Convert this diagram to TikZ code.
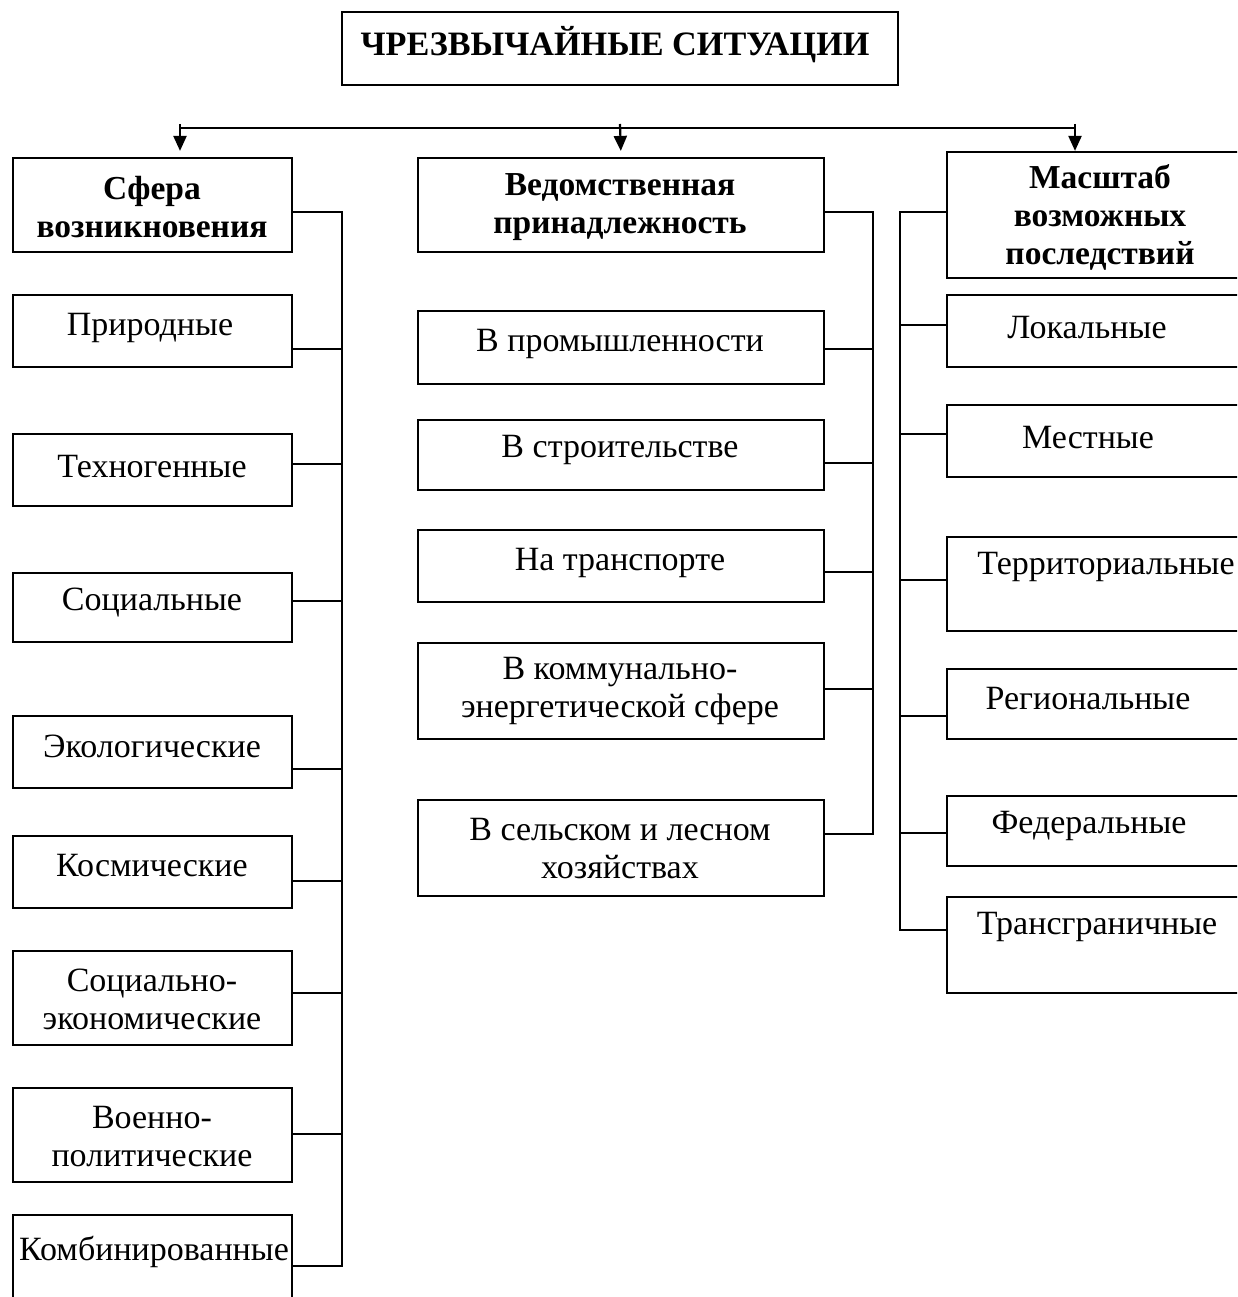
\documentclass[tikz,border=0pt]{standalone}
\usepackage{fontspec}
\setmainfont{Liberation Serif}
\newfontfamily\titlefont{Liberation Serif}
\usetikzlibrary{arrows.meta,fit}
\begin{document}
\begin{tikzpicture}[x=1pt,y=-1pt,
  box/.style={draw, line width=2.2pt, inner sep=0pt},
  ln/.style={line width=2.2pt},
  arr/.style={line width=2.2pt, -{Triangle[width=13pt,length=15pt]}},
  txt/.style={font=\fontsize{34}{38}\selectfont, inner sep=0pt, align=center},
  hdr/.style={font=\bfseries\fontsize{33.5}{38}\selectfont, inner sep=0pt, align=center}]
\useasboundingbox (0,0) rectangle (1237,1297);
\fill[white] (0,0) rectangle (1237,1297);
\clip (0,0) rectangle (1237,1297);

% title
\node[box, fit={(342,12) (898,85)}] (title) {};
\node[inner sep=0pt, font=\titlefont\bfseries\fontsize{34.2}{40}\selectfont] at (615,45) {ЧРЕЗВЫЧАЙНЫЕ СИТУАЦИИ};

% left column
\node[box, fit={(13,158) (292,252)}] (sfera) {};
\node[hdr] at (152,207) {Сфера\\возникновения};
\node[box, fit={(13,295) (292,367)}] (prir) {};
\node[txt] at (150,328) {Природные};
\node[box, fit={(13,434) (292,506)}] (tehn) {};
\node[txt] at (152,467) {Техногенные};
\node[box, fit={(13,573) (292,642)}] (soc) {};
\node[txt] at (152,603) {Социальные};
\node[box, fit={(13,716) (292,788)}] (ekol) {};
\node[txt] at (152,746) {Экологические};
\node[box, fit={(13,836) (292,908)}] (kosm) {};
\node[txt] at (152,866) {Космические};
\node[box, fit={(13,951) (292,1045)}] (socek) {};
\node[txt] at (152,999) {Социально-\\экономические};
\node[box, fit={(13,1088) (292,1182)}] (voen) {};
\node[txt] at (152,1137) {Военно-\\политические};
\node[box, fit={(13,1215) (292,1320)}] (komb) {};
\node[txt] at (154,1252) {Комбинированные};

% middle column
\node[box, fit={(418,158) (824,252)}] (ved) {};
\node[hdr] at (620,207) {Ведомственная\\принадлежность};
\node[box, fit={(418,311) (824,384)}] (prom) {};
\node[txt] at (620,344) {В промышленности};
\node[box, fit={(418,420) (824,490)}] (stroi) {};
\node[txt] at (620,450) {В строительстве};
\node[box, fit={(418,530) (824,602)}] (trans) {};
\node[txt] at (620,563) {На транспорте};
\node[box, fit={(418,643) (824,739)}] (komm) {};
\node[txt] at (620,691) {В коммунально-\\энергетической сфере};
\node[box, fit={(418,800) (824,896)}] (sel) {};
\node[txt] at (620,849) {В сельском и лесном\\хозяйствах};

% right column
\node[box, fit={(947,152) (1260,278)}] (masht) {};
\node[hdr] at (1100,217) {Масштаб\\возможных\\последствий};
\node[box, fit={(947,295) (1260,367)}] (lok) {};
\node[txt] at (1087,328) {Локальные};
\node[box, fit={(947,405) (1260,477)}] (mest) {};
\node[txt] at (1088,438) {Местные};
\node[box, fit={(947,537) (1260,631)}] (terr) {};
\node[txt] at (1106,567) {Территориальные};
\node[box, fit={(947,669) (1260,739)}] (reg) {};
\node[txt] at (1088,699) {Региональные};
\node[box, fit={(947,796) (1260,866)}] (fed) {};
\node[txt] at (1089,826) {Федеральные};
\node[box, fit={(947,897) (1260,993)}] (transgr) {};
\node[txt] at (1097,927) {Трансграничные};

% top distribution line and arrows
\coordinate (hl) at (180,128);
\coordinate (hr) at (1075,128);
\draw[ln] (hl) -- (hr);
\draw[arr, shorten >=6pt] (180,124) -- (sfera.north -| 180,0);
\draw[arr, shorten >=6pt] (620,124) -- (ved.north);
\draw[arr] (1075,124) -- (masht.north -| 1075,0);

% left bus
\coordinate (LB) at (342,0);
\draw[ln] (sfera.east |- 0,212) -- (LB |- 0,212) -- (LB |- 0,1266) -- (komb.east |- 0,1266);
\foreach \n/\y in {prir/349, tehn/464, soc/601, ekol/769, kosm/881, socek/993, voen/1134}
  \draw[ln] (\n.east |- 0,\y) -- (LB |- 0,\y);

% middle bus
\coordinate (MB) at (873,0);
\draw[ln] (ved.east |- 0,212) -- (MB |- 0,212) -- (MB |- 0,834) -- (sel.east |- 0,834);
\foreach \n/\y in {prom/349, stroi/463, trans/572, komm/689}
  \draw[ln] (\n.east |- 0,\y) -- (MB |- 0,\y);

% right bus
\coordinate (RB) at (900,0);
\draw[ln] (masht.west |- 0,212) -- (RB |- 0,212) -- (RB |- 0,930) -- (transgr.west |- 0,930);
\foreach \n/\y in {lok/325, mest/434, terr/580, reg/716, fed/833}
  \draw[ln] (\n.west |- 0,\y) -- (RB |- 0,\y);
\end{tikzpicture}
\end{document}
